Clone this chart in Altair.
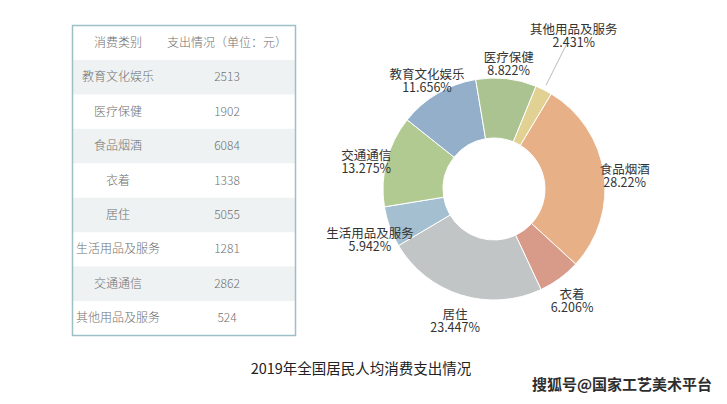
import math
import altair as alt
import pandas as pd

# ---------------- data ----------------
categories = ["教育文化娱乐", "医疗保健", "食品烟酒", "衣着", "居住",
              "生活用品及服务", "交通通信", "其他用品及服务"]
values = [2513, 1902, 6084, 1338, 5055, 1281, 2862, 524]
header = ["消费类别", "支出情况（单位：元）"]
pie_order = ["食品烟酒", "衣着", "居住", "生活用品及服务", "交通通信",
             "教育文化娱乐", "医疗保健", "其他用品及服务"]
pie_colors = ["#E8B087", "#D89B8A", "#C1C5C6", "#A3BFD0", "#B0CA91",
              "#93AFCA", "#AAC390", "#E1D293"]
title_text = "2019年全国居民人均消费支出情况"
watermark_text = "搜狐号@国家工艺美术平台"

FONT = "Noto Sans CJK SC"
total = sum(values)


def pct_label(v):
    s = f"{v / total * 100:.3f}".rstrip("0").rstrip(".")
    return s + "%"


# table data (header row + body rows)
table_rows = [header[0]] + categories
table_df = pd.DataFrame({
    "row": table_rows,
    "c1": [header[0]] + categories,
    "c2": [header[1]] + [str(v) for v in values],
    "idx": list(range(len(table_rows))),
})

# pie data in drawing order
val_of = dict(zip(categories, values))
pie_df = pd.DataFrame({
    "cat": pie_order,
    "value": [val_of[c] for c in pie_order],
    "ord": list(range(len(pie_order))),
})
pie_df["label"] = [f"{c}\n{pct_label(val_of[c])}" for c in pie_order]
pie_df["share"] = pie_df["value"] / total

# ---------------- layout constants ----------------
CX, CY = 486, 181
start = math.radians(31)
tscale = alt.Scale(domain=[0, total], range=[start, start + 2 * math.pi])
yscale = alt.Scale(domain=table_rows, range=[17.5, 327.5],
                   paddingInner=0, paddingOuter=0)
TL, TR = 64.5, 287.5

# ---------------- table ----------------
tbase = alt.Chart(table_df)

shade = tbase.mark_rect(color="#EEF2F3").encode(
    y=alt.Y("row:N", scale=yscale, axis=None),
    x=alt.value(TL), x2=alt.value(TR),
).transform_filter("datum.idx % 2 == 1")

border = alt.Chart(pd.DataFrame({"k": [0]})).mark_rect(
    filled=False, stroke="#9DBFC5", strokeWidth=1.5
).encode(x=alt.value(TL), x2=alt.value(TR),
         y=alt.value(17.5), y2=alt.value(327.5))

col1 = tbase.mark_text(font=FONT, fontSize=12, fontWeight=300, color="#707070").encode(
    y=alt.Y("row:N", scale=yscale, axis=None),
    x=alt.value(110), text="c1:N",
)
col2 = tbase.mark_text(font=FONT, fontSize=12, fontWeight=300, color="#707070").encode(
    y=alt.Y("row:N", scale=yscale, axis=None),
    x=alt.value(219), text="c2:N",
)

# ---------------- donut ----------------
pbase = alt.Chart(pie_df).transform_window(
    end="sum(value)", sort=[alt.SortField("ord")],
    frame=[None, 0],
).transform_calculate(
    start="datum.end - datum.value",
    mid="datum.end - datum.value / 2",
)

arcs = pbase.mark_arc(innerRadius=51, outerRadius=111,
                      stroke="white", strokeWidth=1).encode(
    theta=alt.Theta("start:Q", scale=tscale),
    theta2="end:Q",
    color=alt.Color("cat:N", scale=alt.Scale(domain=pie_order, range=pie_colors),
                    legend=None),
    x=alt.value(CX), y=alt.value(CY),
)

labels = pbase.mark_text(font=FONT, fontSize=12.5, color="#333333",
                         lineBreak="\n", lineHeight=13).encode(
    theta=alt.Theta("mid:Q", scale=tscale),
    radius=alt.value(132),
    text="label:N",
    x=alt.value(CX), y=alt.value(CY),
).transform_filter("datum.share >= 0.03")

labels_small = pbase.mark_text(font=FONT, fontSize=12.5, color="#333333",
                               lineBreak="\n", lineHeight=13).encode(
    theta=alt.Theta("mid:Q", scale=tscale),
    radius=alt.value(178),
    text="label:N",
    x=alt.value(CX), y=alt.value(CY),
).transform_filter("datum.share < 0.03")

leader = pbase.mark_arc(stroke="#c4c4c4", strokeWidth=0.8, fillOpacity=0).encode(
    theta=alt.Theta("mid:Q", scale=tscale),
    theta2="mid:Q",
    radius=alt.value(163), radius2=alt.value(116),
    x=alt.value(CX), y=alt.value(CY),
).transform_filter("datum.share < 0.03")

# ---------------- title & watermark ----------------
title = alt.Chart(pd.DataFrame({"t": [title_text]})).mark_text(
    font=FONT, fontSize=14.5, color="#222222"
).encode(text="t:N", x=alt.value(353), y=alt.value(362))

watermark = alt.Chart(pd.DataFrame({"t": [watermark_text]})).mark_text(
    font=FONT, fontSize=15, fontWeight="bold", color="#2e2e2e", align="right"
).encode(text="t:N", x=alt.value(704), y=alt.value(377))

chart = alt.layer(
    shade, border, col1, col2, arcs, leader, labels, labels_small, title, watermark
).properties(
    width=711, height=386, autosize="none", padding=0, background="white"
).configure_view(strokeWidth=0, stroke="transparent")

chart.save("out.html", embed_options={"renderer": "svg", "actions": False})
